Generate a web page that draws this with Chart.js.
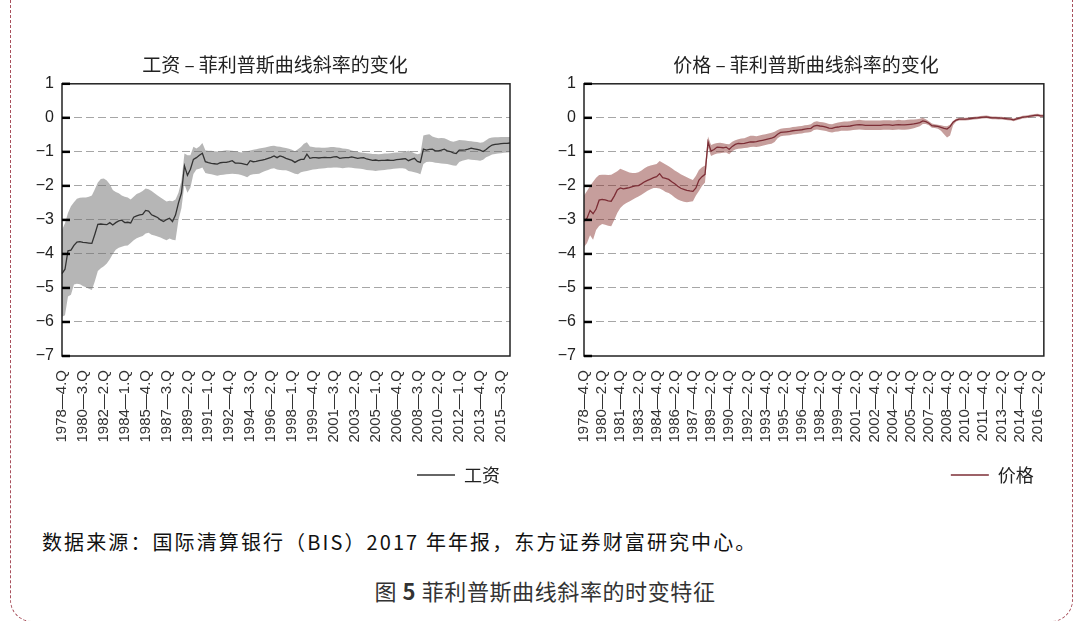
<!DOCTYPE html>
<html>
<head>
<meta charset="utf-8">
<script src="https://cdn.jsdelivr.net/npm/chart.js@4.4.1/dist/chart.umd.min.js"></script>
<style>
  body { margin: 0; background: #fff; width: 1078px; height: 621px; overflow: hidden; position: relative; }
  #frame { position: absolute; left: 10px; top: -30px; width: 1063px; height: 652px; box-sizing: border-box;
           border: 1.3px dashed #a8505c; border-radius: 22px; }
  canvas { position: absolute; top: 30px; }
  #src { position: absolute; left: 42px; top: 527px; font: 20px "Noto Sans CJK SC", sans-serif; color: #111; letter-spacing: 2.1px; }
  #cap { position: absolute; left: 0; width: 1090px; top: 574px; text-align: center; font: 22px "Noto Sans CJK SC", sans-serif; color: #333; letter-spacing: 0.6px; }
</style>
</head>
<body>
<div id="frame"></div>
<canvas id="wage-chart" width="550" height="464" style="left:0"></canvas>
<canvas id="price-chart" width="512" height="464" style="left:550px"></canvas>
<div id="src">数据来源：国际清算银行（BIS）2017 年年报，东方证券财富研究中心。</div>
<div id="cap">图 <b>5</b> 菲利普斯曲线斜率的时变特征</div>
<script>
// Quarter range of each panel (first quarter 1978 Q4)
const startYear = 1978, startQuarter = 4;
const wageCount = 151;   // 1978Q4 .. 2016Q2
const priceCount = 153;  // 1978Q4 .. 2016Q4
const wageTickStep = 7, priceTickStep = 6;
const yTicks = [1, 0, -1, -2, -3, -4, -5, -6, -7];

// Wage: slope estimate with its band
const wageMid = [
  -4.58,-4.45,-3.91,-3.89,-3.75,-3.65,-3.64,-3.66,-3.67,-3.68,
  -3.69,-3.42,-3.13,-3.12,-3.13,-3.14,-3.08,-3.15,-3.08,-3.03,
  -3.01,-3.08,-3.07,-3.09,-2.92,-2.88,-2.85,-2.84,-2.72,-2.74,
  -2.85,-2.89,-2.93,-3.00,-3.05,-2.99,-2.95,-3.05,-2.86,-2.50,
  -2.21,-1.41,-1.69,-1.51,-1.22,-1.17,-1.10,-1.04,-1.29,-1.32,
  -1.34,-1.35,-1.36,-1.32,-1.31,-1.31,-1.29,-1.26,-1.33,-1.33,
  -1.34,-1.36,-1.38,-1.26,-1.29,-1.28,-1.26,-1.24,-1.22,-1.19,
  -1.16,-1.12,-1.17,-1.12,-1.15,-1.19,-1.22,-1.25,-1.31,-1.26,
  -1.22,-1.22,-1.07,-1.19,-1.17,-1.17,-1.18,-1.17,-1.16,-1.17,
  -1.17,-1.15,-1.14,-1.19,-1.18,-1.17,-1.17,-1.15,-1.17,-1.19,
  -1.18,-1.17,-1.21,-1.23,-1.25,-1.24,-1.26,-1.25,-1.25,-1.24,
  -1.25,-1.25,-1.23,-1.22,-1.21,-1.20,-1.26,-1.22,-1.19,-1.28,
  -1.31,-0.92,-0.95,-0.93,-0.92,-0.97,-0.97,-0.95,-0.92,-0.97,
  -0.99,-1.03,-1.05,-0.95,-0.95,-0.94,-0.92,-0.89,-0.91,-0.93,
  -0.95,-0.99,-0.93,-0.86,-0.80,-0.78,-0.77,-0.76,-0.75,-0.75,
  -0.74
];
const wageHigh = [
  -3.30,-3.10,-2.80,-2.60,-2.48,-2.38,-2.35,-2.34,-2.34,-2.32,
  -2.28,-2.10,-1.90,-1.80,-1.78,-1.84,-1.95,-2.12,-2.18,-2.22,
  -2.28,-2.32,-2.34,-2.40,-2.32,-2.24,-2.20,-2.15,-2.08,-2.10,
  -2.15,-2.22,-2.28,-2.34,-2.40,-2.46,-2.44,-2.45,-2.40,-2.20,
  -1.85,-1.05,-1.10,-1.10,-0.85,-0.90,-0.84,-0.74,-0.95,-0.97,
  -0.97,-0.98,-0.99,-0.99,-0.97,-0.95,-0.96,-0.97,-0.98,-1.00,
  -1.02,-1.00,-0.98,-0.96,-0.94,-0.92,-0.90,-0.89,-0.87,-0.85,
  -0.83,-0.82,-0.84,-0.85,-0.87,-0.89,-0.91,-0.94,-0.98,-0.92,
  -0.86,-0.76,-0.72,-0.84,-0.86,-0.87,-0.87,-0.88,-0.88,-0.87,
  -0.86,-0.86,-0.87,-0.88,-0.90,-0.91,-0.92,-0.96,-0.98,-1.00,
  -1.02,-1.03,-1.04,-1.05,-1.06,-1.06,-1.07,-1.06,-1.05,-1.05,
  -1.04,-1.03,-1.02,-1.02,-1.01,-0.99,-0.97,-1.00,-1.04,-1.07,
  -1.05,-0.52,-0.50,-0.48,-0.55,-0.58,-0.60,-0.59,-0.60,-0.64,
  -0.68,-0.70,-0.68,-0.65,-0.66,-0.67,-0.68,-0.69,-0.70,-0.71,
  -0.73,-0.72,-0.66,-0.60,-0.58,-0.57,-0.57,-0.56,-0.56,-0.56,
  -0.56
];
const wageLow = [
  -5.85,-5.80,-5.25,-5.20,-4.90,-4.88,-4.89,-4.94,-4.98,-5.02,
  -5.06,-4.80,-4.50,-4.42,-4.36,-4.28,-4.16,-4.00,-3.88,-3.82,
  -3.79,-3.76,-3.75,-3.68,-3.60,-3.54,-3.50,-3.47,-3.40,-3.38,
  -3.44,-3.46,-3.49,-3.52,-3.56,-3.60,-3.55,-3.58,-3.60,-3.00,
  -2.65,-1.95,-2.20,-2.05,-1.65,-1.52,-1.50,-1.46,-1.62,-1.64,
  -1.66,-1.68,-1.70,-1.68,-1.67,-1.66,-1.65,-1.64,-1.65,-1.66,
  -1.68,-1.71,-1.75,-1.68,-1.66,-1.65,-1.64,-1.60,-1.56,-1.53,
  -1.50,-1.48,-1.52,-1.53,-1.54,-1.54,-1.57,-1.61,-1.64,-1.66,
  -1.60,-1.58,-1.56,-1.54,-1.52,-1.51,-1.50,-1.49,-1.48,-1.47,
  -1.47,-1.46,-1.46,-1.47,-1.48,-1.47,-1.46,-1.47,-1.48,-1.49,
  -1.50,-1.51,-1.53,-1.54,-1.55,-1.56,-1.55,-1.54,-1.53,-1.52,
  -1.51,-1.50,-1.49,-1.48,-1.48,-1.50,-1.56,-1.58,-1.60,-1.62,
  -1.66,-1.36,-1.30,-1.29,-1.30,-1.32,-1.33,-1.34,-1.35,-1.36,
  -1.38,-1.40,-1.41,-1.30,-1.26,-1.24,-1.22,-1.23,-1.24,-1.25,
  -1.26,-1.23,-1.16,-1.12,-1.08,-1.06,-1.05,-1.04,-1.03,-1.02,
  -1.01
];

// Price: slope estimate with its band
const priceMid = [
  -3.05,-2.95,-2.72,-2.82,-2.68,-2.42,-2.40,-2.41,-2.44,-2.45,
  -2.30,-2.12,-2.06,-2.09,-2.07,-2.05,-2.02,-2.00,-1.99,-1.94,
  -1.88,-1.84,-1.80,-1.76,-1.73,-1.64,-1.76,-1.78,-1.81,-1.88,
  -1.94,-2.01,-2.07,-2.10,-2.13,-2.15,-2.16,-2.06,-1.83,-1.73,
  -1.66,-0.71,-0.98,-0.93,-0.86,-0.87,-0.88,-0.86,-0.93,-0.84,
  -0.78,-0.75,-0.76,-0.75,-0.73,-0.71,-0.71,-0.70,-0.68,-0.66,
  -0.64,-0.62,-0.60,-0.56,-0.48,-0.43,-0.42,-0.41,-0.40,-0.38,
  -0.37,-0.36,-0.35,-0.33,-0.32,-0.31,-0.24,-0.22,-0.24,-0.25,
  -0.27,-0.30,-0.31,-0.28,-0.27,-0.25,-0.25,-0.25,-0.24,-0.22,
  -0.21,-0.20,-0.21,-0.22,-0.22,-0.22,-0.22,-0.22,-0.22,-0.21,
  -0.21,-0.21,-0.22,-0.21,-0.20,-0.21,-0.21,-0.20,-0.19,-0.18,
  -0.16,-0.14,-0.09,-0.11,-0.16,-0.23,-0.24,-0.25,-0.28,-0.31,
  -0.33,-0.26,-0.13,-0.07,-0.04,-0.04,-0.04,-0.03,-0.02,-0.01,
   0.00, 0.01, 0.02, 0.03, 0.01, 0.00, 0.00,-0.01,-0.01,-0.02,
  -0.03,-0.04,-0.06,-0.03,-0.01, 0.02, 0.03, 0.04, 0.06, 0.07,
   0.08, 0.06, 0.06
];
const priceHigh = [
  -2.28,-2.15,-2.00,-1.88,-1.76,-1.68,-1.67,-1.67,-1.68,-1.67,
  -1.62,-1.57,-1.50,-1.53,-1.57,-1.61,-1.62,-1.62,-1.60,-1.55,
  -1.48,-1.43,-1.40,-1.38,-1.36,-1.27,-1.32,-1.37,-1.42,-1.48,
  -1.55,-1.60,-1.66,-1.70,-1.75,-1.79,-1.83,-1.70,-1.53,-1.45,
  -1.40,-0.55,-0.80,-0.76,-0.74,-0.73,-0.75,-0.77,-0.78,-0.70,
  -0.66,-0.63,-0.61,-0.60,-0.56,-0.53,-0.53,-0.54,-0.52,-0.50,
  -0.48,-0.46,-0.44,-0.41,-0.36,-0.32,-0.31,-0.30,-0.29,-0.27,
  -0.26,-0.25,-0.24,-0.22,-0.21,-0.19,-0.12,-0.10,-0.12,-0.13,
  -0.15,-0.18,-0.19,-0.16,-0.14,-0.12,-0.11,-0.11,-0.10,-0.08,
  -0.07,-0.06,-0.07,-0.08,-0.08,-0.08,-0.08,-0.08,-0.08,-0.07,
  -0.07,-0.07,-0.08,-0.07,-0.06,-0.07,-0.07,-0.06,-0.05,-0.05,
  -0.04,-0.03, 0.00,-0.04,-0.10,-0.17,-0.19,-0.20,-0.22,-0.24,
  -0.25,-0.20,-0.09,-0.03, 0.00, 0.00, 0.00, 0.01, 0.02, 0.03,
   0.04, 0.05, 0.06, 0.07, 0.05, 0.04, 0.04, 0.03, 0.03, 0.02,
   0.01, 0.00,-0.02, 0.01, 0.03, 0.06, 0.07, 0.08, 0.10, 0.11,
   0.12, 0.10, 0.10
];
const priceLow = [
  -3.80,-3.68,-3.45,-3.58,-3.30,-3.18,-3.12,-3.14,-3.17,-3.19,
  -3.00,-2.80,-2.65,-2.56,-2.50,-2.46,-2.41,-2.36,-2.31,-2.26,
  -2.20,-2.14,-2.10,-2.06,-2.06,-2.08,-2.12,-2.18,-2.21,-2.27,
  -2.34,-2.40,-2.44,-2.47,-2.48,-2.47,-2.45,-2.28,-2.15,-2.00,
  -1.90,-0.88,-1.12,-1.08,-1.05,-1.04,-1.03,-1.02,-1.07,-0.98,
  -0.93,-0.91,-0.90,-0.89,-0.88,-0.86,-0.85,-0.86,-0.84,-0.82,
  -0.80,-0.78,-0.76,-0.71,-0.60,-0.54,-0.53,-0.52,-0.51,-0.49,
  -0.48,-0.47,-0.46,-0.44,-0.43,-0.42,-0.36,-0.34,-0.36,-0.37,
  -0.39,-0.42,-0.43,-0.41,-0.40,-0.38,-0.38,-0.38,-0.37,-0.36,
  -0.35,-0.34,-0.35,-0.36,-0.36,-0.36,-0.36,-0.36,-0.36,-0.35,
  -0.35,-0.35,-0.36,-0.35,-0.34,-0.35,-0.35,-0.34,-0.33,-0.31,
  -0.28,-0.25,-0.18,-0.18,-0.22,-0.29,-0.30,-0.32,-0.38,-0.48,
  -0.58,-0.52,-0.22,-0.11,-0.08,-0.08,-0.08,-0.07,-0.06,-0.05,
  -0.04,-0.03,-0.02,-0.01,-0.03,-0.04,-0.04,-0.05,-0.05,-0.06,
  -0.07,-0.08,-0.10,-0.07,-0.05,-0.02,-0.01, 0.00, 0.02, 0.03,
   0.04, 0.02, 0.02
];

// Helpers
function quarterLabels(n){
  const out = [];
  let y = startYear, q = startQuarter;
  for (let i = 0; i < n; i++) {
    out.push(y + '—' + q + '.Q');
    q++; if (q > 4) { q = 1; y++; }
  }
  return out;
}
const minus = v => String(v).replace('-', '−');

// frame round the plot + short inward ticks on the y axis
const framePlugin = {
  id: 'frame',
  afterDraw(chart){
    const {ctx, chartArea: a} = chart;
    const y = chart.scales.y;
    ctx.save();
    ctx.strokeStyle = '#222';
    ctx.lineWidth = 1.5;
    ctx.strokeRect(a.left, a.top, a.right - a.left, a.bottom - a.top);
    ctx.lineWidth = 2.5;
    ctx.strokeStyle = '#000';
    y.ticks.forEach(t => {
      const py = y.getPixelForValue(t.value);
      ctx.beginPath(); ctx.moveTo(a.left, py); ctx.lineTo(a.left + 8, py); ctx.stroke();
    });
    ctx.restore();
  }
};

function makeChart(id, cfg){
  new Chart(document.getElementById(id).getContext('2d'), {
    type: 'line',
    data: {
      labels: quarterLabels(cfg.count),
      datasets: [
        { label: cfg.name, data: cfg.mid, borderColor: cfg.line, borderWidth: 1.3, pointRadius: 0, fill: false },
        { label: 'high', data: cfg.high, borderWidth: 0, pointRadius: 0, backgroundColor: cfg.band, fill: '+1' },
        { label: 'low', data: cfg.low, borderWidth: 0, pointRadius: 0, fill: false }
      ]
    },
    options: {
      responsive: false, animation: false,
      layout: { padding: 0, autoPadding: false },
      elements: { line: { tension: 0 } },
      plugins: {
        title: { display: true, text: cfg.title, color: '#222', padding: { top: 23, bottom: 8 },
                 font: { family: '"Noto Sans CJK SC", sans-serif', size: 19, weight: 'normal' } },
        legend: { position: 'bottom', align: 'end', fullSize: false,
                  labels: { usePointStyle: true, pointStyle: 'line', pointStyleWidth: 38, padding: 10, color: '#222',
                            font: { family: '"Noto Sans CJK SC", sans-serif', size: 18 },
                            filter: item => item.datasetIndex === 0 } },
        tooltip: { enabled: false }
      },
      scales: {
        x: {
          grid: { display: false }, border: { display: false },
          ticks: { autoSkip: false, minRotation: 90, maxRotation: 90, padding: 6, color: '#333',
                   font: { family: '"Liberation Sans", Arial, sans-serif', size: 15 },
                   callback: function(v, i){ return i % cfg.step === 0 ? this.getLabelForValue(v) : null; } },
          afterFit: s => { s.height = 100; }
        },
        y: {
          min: -7, max: 1,
          afterBuildTicks: s => { s.ticks = yTicks.map(v => ({ value: v })); },
          grid: { drawTicks: false, lineWidth: 1,
                  color: c => (c.tick && (c.tick.value === 1 || c.tick.value === -7)) ? 'rgba(0,0,0,0)' : '#a6a6a6' },
          border: { display: false, dash: [8, 4] },
          ticks: { padding: 8, color: '#222', font: { family: '"Liberation Sans", Arial, sans-serif', size: 16 },
                   callback: v => minus(v) },
          afterFit: s => { s.width = cfg.leftW; }
        },
        yR: {
          position: 'right', grid: { display: false }, border: { display: false }, ticks: { display: false },
          afterFit: s => { s.width = cfg.rightW; }
        }
      }
    },
    plugins: [framePlugin]
  });
}

makeChart('wage-chart', {
  title: '工资 – 菲利普斯曲线斜率的变化', name: '工资', count: wageCount, step: wageTickStep,
  mid: wageMid, high: wageHigh, low: wageLow,
  line: '#333333', band: 'rgba(110,110,110,0.5)', leftW: 62, rightW: 40
});
makeChart('price-chart', {
  title: '价格 – 菲利普斯曲线斜率的变化', name: '价格', count: priceCount, step: priceTickStep,
  mid: priceMid, high: priceHigh, low: priceLow,
  line: '#7d2e36', band: 'rgba(128,40,36,0.45)', leftW: 34, rightW: 16
});
</script>
</body>
</html>
